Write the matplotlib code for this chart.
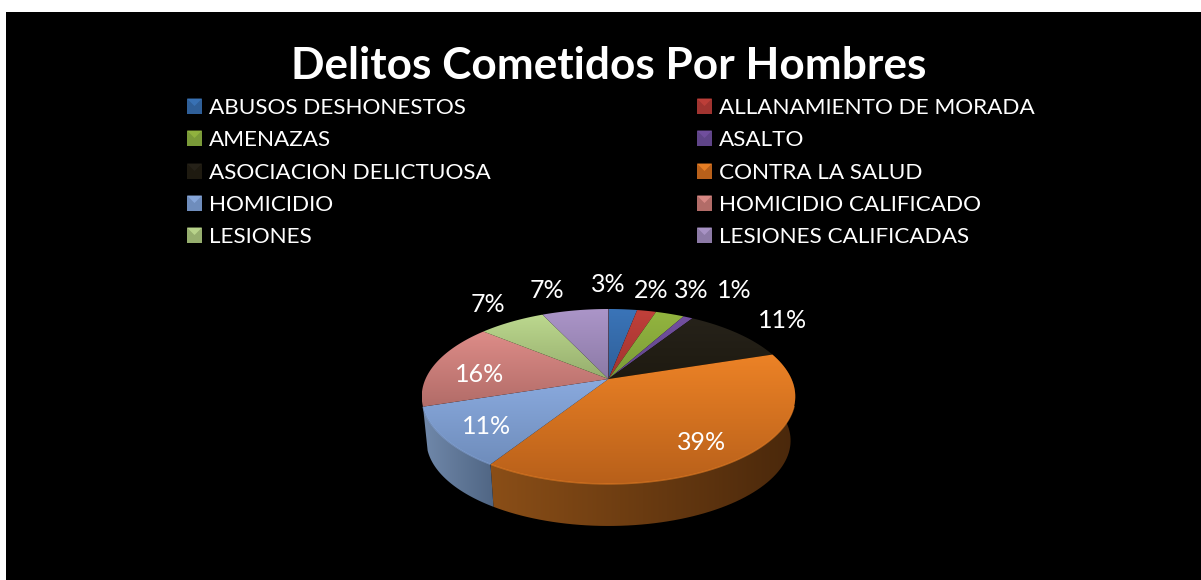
import numpy as np
import matplotlib
matplotlib.use('Agg')
import matplotlib.pyplot as plt
from matplotlib.colors import to_rgb
from matplotlib.patches import Polygon, Rectangle

categories = ['ABUSOS DESHONESTOS', 'ALLANAMIENTO DE MORADA', 'AMENAZAS', 'ASALTO',
              'ASOCIACION DELICTUOSA', 'CONTRA LA SALUD', 'HOMICIDIO',
              'HOMICIDIO CALIFICADO', 'LESIONES', 'LESIONES CALIFICADAS']
values = [3, 2, 3, 1, 11, 39, 11, 16, 7, 7]
title = 'Delitos Cometidos Por Hombres'

# light / dark end of the gradient on each slice
top_light = ['#3a74b8', '#c0403a', '#93b53f', '#7350a0', '#26221a',
             '#ec8226', '#8aaade', '#dd8c88', '#bcd88e', '#ab95c8']
top_dark = ['#2f5f98', '#a03430', '#7a9a38', '#5f4488', '#1e1a10',
            '#b8601a', '#6f8dbc', '#b26c68', '#96ae6e', '#8c7aa6']
side_left = ['#2a4f80', '#802a28', '#62802c', '#4c3870', '#181510',
             '#8a4e17', '#7088aa', '#8c5552', '#7a8c58', '#706088']
side_right = ['#1c3858', '#5a1e1c', '#46581f', '#34264c', '#100e08',
              '#4a280b', '#506684', '#5c3836', '#505c3a', '#4a405a']

# spots of the data labels, in pixels
label_x = [608, 651, 691, 734, 783, 702, 487, 480, 488, 547]
label_y = [285, 290, 290, 290, 320, 442, 427, 374, 304, 290]

cx, cy = 608.5, 379
k, a, b = 183, 84, 0.2
depth_scale, depth_y = 0.975, 423.6


def top_xy(th):
    d = 1 + b * np.cos(th)
    return cx + k * np.sin(th) / d, cy - a * np.cos(th) / d


def bottom_xy(th):
    d = 1 + b * np.cos(th)
    return cx + depth_scale * k * np.sin(th) / d, depth_y - depth_scale * a * np.cos(th) / d


def rgb(c):
    return np.array(to_rgb(c))


def gradient_fill(ax, pts, c1, c2, vertical=True, zorder=2):
    pts = np.array(pts)
    x0, x1 = pts[:, 0].min(), pts[:, 0].max()
    y0, y1 = pts[:, 1].min(), pts[:, 1].max()
    t = np.linspace(0, 1, 64)
    grad = rgb(c1)[None, :] * (1 - t[:, None]) + rgb(c2)[None, :] * t[:, None]
    img = grad[:, None, :] if vertical else grad[None, :, :]
    im = ax.imshow(img, extent=(x0, x1, y1, y0), aspect='auto', zorder=zorder,
                   interpolation='bilinear')
    im.set_clip_path(Polygon(pts, closed=True, transform=ax.transData))


fig = plt.figure(figsize=(12.01, 5.80), dpi=100, facecolor='white')
ax = fig.add_axes([0, 0, 1, 1])
ax.add_patch(Rectangle((6, 12), 1195, 568, facecolor='black', edgecolor='none', zorder=0))

plt.rcParams['font.family'] = ['Lato', 'DejaVu Sans']

edges = np.cumsum([0] + values) / sum(values) * 2 * np.pi

# only the two front slices show a side
for i in [5, 6]:
    th = np.linspace(edges[i], edges[i + 1], 80)
    tx, ty = top_xy(th)
    bx, by = bottom_xy(th)
    pts = np.column_stack([np.r_[tx, bx[::-1]], np.r_[ty, by[::-1]]])
    gradient_fill(ax, pts, side_left[i], side_right[i], vertical=False, zorder=1)
for i in range(len(values)):
    th = np.linspace(edges[i], edges[i + 1], 80)
    tx, ty = top_xy(th)
    pts = np.column_stack([np.r_[cx, tx], np.r_[cy, ty]])
    gradient_fill(ax, pts, top_light[i], top_dark[i], zorder=2)
    # light rim on the front edge
    front = np.cos(th) < -0.3
    if front.any():
        ax.plot(tx[front], ty[front], color=top_light[i], lw=1, alpha=0.6,
                zorder=3, solid_capstyle='butt')

for i, v in enumerate(values):
    ax.text(label_x[i], label_y[i], f'{v}%', color='white', fontsize=18,
            ha='center', va='center', zorder=5)

ax.text(609, 66, title, color='white', fontsize=31.8, fontweight='bold',
        ha='center', va='center', zorder=5)

# legend in two columns
rows = [106, 138, 171, 203, 235]
cols = [187, 697]
for i, name in enumerate(categories):
    x = cols[i % 2]
    y = rows[i // 2]
    s = 7.5
    ax.add_patch(Rectangle((x, y - s), 2 * s, 2 * s, facecolor=top_dark[i], edgecolor='none', zorder=4))
    ax.add_patch(Polygon([(x, y - s), (x + 2 * s, y - s), (x + s, y)], closed=True,
                         facecolor=top_light[i], edgecolor='none', alpha=0.9, zorder=5))
    ax.text(x + 22, y + 2, name, color='white', fontsize=16.2, ha='left', va='center', zorder=5)

ax.set_xlim(0, 1201)
ax.set_ylim(580, 0)
ax.axis('off')
fig.savefig('out.png', dpi=100, facecolor='white')
